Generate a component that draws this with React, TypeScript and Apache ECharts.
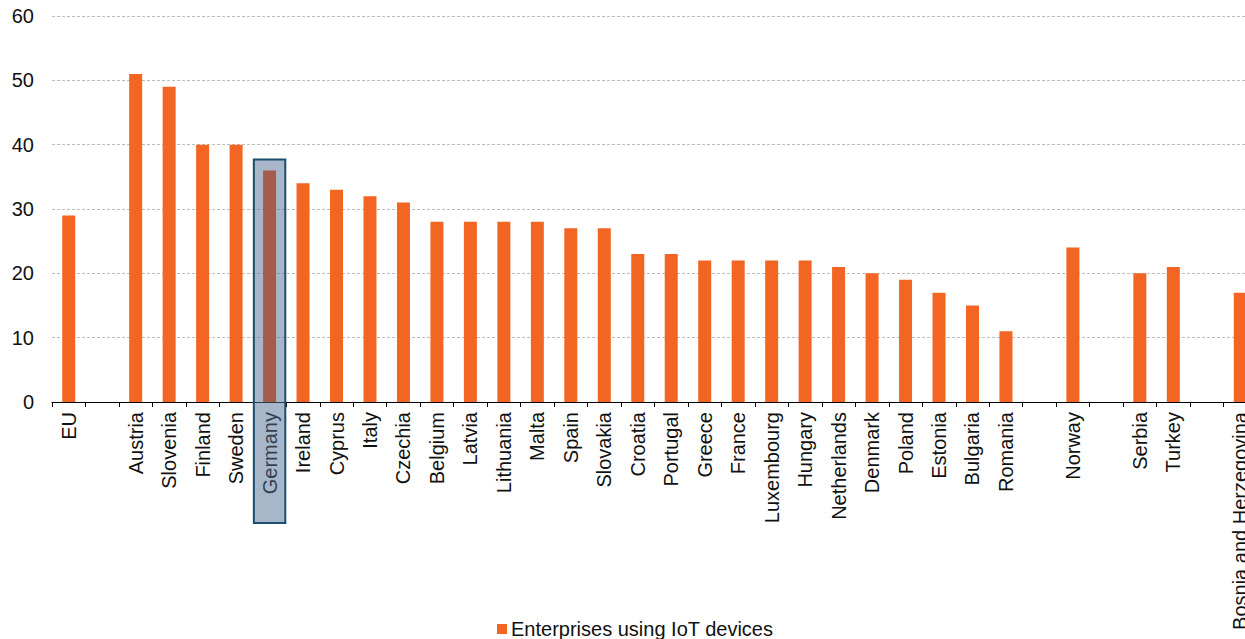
import React, { useEffect, useRef } from "react";
import * as echarts from "echarts";

const categories: string[] = [
  "EU", "", "Austria", "Slovenia", "Finland", "Sweden", "Germany", "Ireland", "Cyprus", "Italy",
  "Czechia", "Belgium", "Latvia", "Lithuania", "Malta", "Spain", "Slovakia", "Croatia", "Portugal",
  "Greece", "France", "Luxembourg", "Hungary", "Netherlands", "Denmark", "Poland", "Estonia",
  "Bulgaria", "Romania", " ", "Norway", "  ", "Serbia", "Turkey", "   ", "Bosnia and Herzegovina",
];
const values: (number | null)[] = [
  29, null, 51, 49, 40, 40, 36, 34, 33, 32,
  31, 28, 28, 28, 28, 27, 27, 23, 23,
  22, 22, 22, 22, 21, 20, 19, 17,
  15, 11, null, 24, null, 20, 21, null, 17,
];
const seriesName = "Enterprises using IoT devices";
const highlighted = "Germany";
const yTicks = [0, 10, 20, 30, 40, 50, 60];

const ORANGE = "#F26522";

export default function App() {
  const ref = useRef<HTMLDivElement>(null);
  useEffect(() => {
    if (!ref.current) return;
    const chart = echarts.init(ref.current, undefined, { renderer: "svg" });
    const font = "'Liberation Sans', Arial, sans-serif";
    const hiIdx = categories.indexOf(highlighted);
    chart.setOption({
      animation: false,
      textStyle: { fontFamily: font },
      grid: { left: 52, right: 0, top: 16, bottom: 237, containLabel: false },
      legend: {
        data: [seriesName],
        left: 497,
        top: 619,
        padding: 0,
        icon: "rect",
        itemWidth: 10,
        itemHeight: 10,
        itemGap: 4,
        textStyle: { fontSize: 20, color: "#111", fontFamily: font, padding: [0, 0, 0, -1] },
      },
      xAxis: {
        type: "category",
        data: categories,
        axisLine: { lineStyle: { color: "#000", width: 1 } },
        axisTick: { show: true, interval: 0, length: 5, lineStyle: { color: "#000" } },
        axisLabel: {
          interval: 0,
          rotate: 90,
          fontSize: 20,
          color: "#111",
          margin: 10,
          fontFamily: font,
        },
      },
      yAxis: {
        type: "value",
        min: yTicks[0],
        max: yTicks[yTicks.length - 1],
        interval: 10,
        axisLine: { show: false },
        axisTick: { show: false },
        axisLabel: { fontSize: 20, color: "#111", margin: 18, fontFamily: font },
        splitLine: { lineStyle: { color: "#bdbdbd", type: [3, 2], width: 1 } },
      },
      series: [
        {
          name: seriesName,
          type: "bar",
          barWidth: 13,
          itemStyle: { color: ORANGE },
          data: values.map((v, i) =>
            i === hiIdx ? { value: v, itemStyle: { color: "#FA4A02" } } : v
          ),
        },
      ],
    });
    // highlight box around the highlighted category
    const [cx, top] = chart.convertToPixel({ gridIndex: 0 }, [hiIdx, 37.7]) as number[];
    const [, axisY] = chart.convertToPixel({ gridIndex: 0 }, [hiIdx, 0]) as number[];
    const [cx2] = chart.convertToPixel({ gridIndex: 0 }, [hiIdx + 1, 0]) as number[];
    const bandW = cx2 - cx;
    const w = bandW - 2;
    chart.setOption({
      graphic: [
        {
          type: "rect",
          z: 100,
          shape: { x: cx - w / 2, y: top, width: w, height: axisY + 121 - top },
          style: { fill: "rgba(80,110,145,0.5)", stroke: "#1B4F6E", lineWidth: 2 },
        },
      ],
    });
    return () => chart.dispose();
  }, []);
  return (
    <div
      style={{
        position: "absolute",
        left: 0,
        top: 0,
        width: 1245,
        height: 639,
        overflow: "hidden",
      }}
    >
      <div ref={ref} style={{ width: 1257, height: 639 }} />
    </div>
  );
}
